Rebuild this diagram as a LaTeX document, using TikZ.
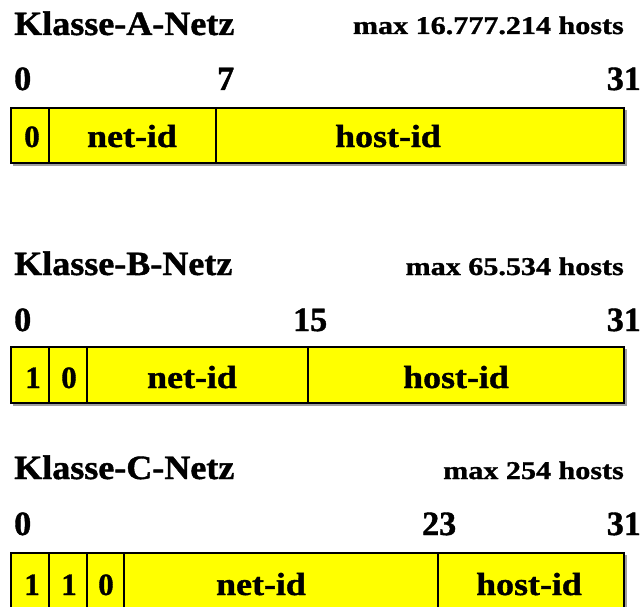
\documentclass[tikz,border=0pt]{standalone}
\usepackage{fontspec}
\setmainfont{Liberation Serif}[FakeBold=1.2]
\newfontfamily\titlefam[FakeStretch=1.06,FakeBold=1.2]{Liberation Serif}
\newfontfamily\widefam[FakeStretch=1.12,FakeBold=1.2]{Liberation Serif}
\newfontfamily\hostfam[FakeStretch=1.18,FakeBold=1.2]{Liberation Serif}
\definecolor{cellyellow}{HTML}{FFFF00}
\definecolor{shadowgray}{HTML}{A0A0A0}
\begin{document}
\begin{tikzpicture}[x=1pt,y=-1pt,
  title/.style={inner sep=0pt,anchor=base west,font=\titlefam\bfseries\fontsize{34}{40}\selectfont},
  hosts/.style={inner sep=0pt,anchor=base east,font=\hostfam\bfseries\fontsize{25.5}{30}\selectfont},
  bitnum/.style={inner sep=0pt,font=\bfseries\fontsize{34}{40}\selectfont},
  cellbit/.style={inner sep=0pt,anchor=base,font=\bfseries\fontsize{31}{36}\selectfont},
  celltext/.style={inner sep=0pt,anchor=base,font=\widefam\bfseries\fontsize{32}{36}\selectfont},
  frame/.style={draw=black,line width=2pt,fill=cellyellow},
  divider/.style={draw=black,line width=2pt},
  shadow/.style={draw=shadowgray,line width=1.5pt}
]
\useasboundingbox (0,0) rectangle (642,607);

% ---------- Class A ----------
\node[title] (tA) at (14,35) {Klasse-A-Netz};
\node[hosts] (hA) at (624,34) {max 16.777.214 hosts};
\node[bitnum,anchor=base west] (a0) at (14,90) {0};
\node[bitnum,anchor=base west] (a7) at (217,90) {7};
\node[bitnum,anchor=base east] (a31) at (641,90) {31};
\draw[shadow] (13,165) -- (626,165) -- (626,110);
\draw[frame] (11,108) rectangle (624,163);
\draw[divider] (49,108) -- (49,163);
\draw[divider] (216,108) -- (216,163);
\node[cellbit] (ab0) at (32,147) {0};
\node[celltext] (anet) at (132,147) {net-id};
\node[celltext] (ahost) at (388,147) {host-id};

% ---------- Class B ----------
\node[title] (tB) at (14,275) {Klasse-B-Netz};
\node[hosts] (hB) at (624,275) {max 65.534 hosts};
\node[bitnum,anchor=base west] (b0) at (14,331) {0};
\node[bitnum,anchor=base west] (b15) at (293,331) {15};
\node[bitnum,anchor=base east] (b31) at (641,331) {31};
\draw[shadow] (13,405) -- (626,405) -- (626,349);
\draw[frame] (11,347) rectangle (624,403);
\draw[divider] (49,347) -- (49,403);
\draw[divider] (87,347) -- (87,403);
\draw[divider] (308,347) -- (308,403);
\node[cellbit] (bb1) at (33,388) {1};
\node[cellbit] (bb0) at (69,388) {0};
\node[celltext] (bnet) at (192,388) {net-id};
\node[celltext] (bhost) at (456,388) {host-id};

% ---------- Class C ----------
\node[title] (tC) at (14,479) {Klasse-C-Netz};
\node[hosts] (hC) at (624,479) {max 254 hosts};
\node[bitnum,anchor=base west] (c0) at (14,535) {0};
\node[bitnum,anchor=base west] (c23) at (422,535) {23};
\node[bitnum,anchor=base east] (c31) at (641,535) {31};
\draw[shadow] (626,555) -- (626,615);
\draw[frame] (11,553) rectangle (624,614);
\draw[divider] (49,553) -- (49,614);
\draw[divider] (87,553) -- (87,614);
\draw[divider] (124,553) -- (124,614);
\draw[divider] (438,553) -- (438,614);
\node[cellbit] (cb1) at (32,595) {1};
\node[cellbit] (cb2) at (69,595) {1};
\node[cellbit] (cb3) at (106,595) {0};
\node[celltext] (cnet) at (261,595) {net-id};
\node[celltext] (chost) at (529,595) {host-id};
\end{tikzpicture}
\end{document}
